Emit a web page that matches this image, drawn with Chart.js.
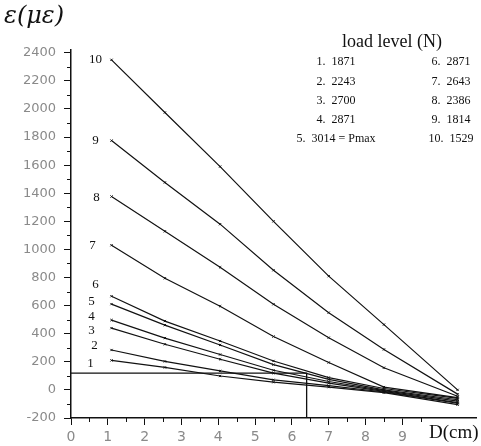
<!DOCTYPE html>
<html>
<head>
<meta charset="utf-8">
<script src="https://cdn.jsdelivr.net/npm/chart.js@4"></script>
<style>
  body { margin: 0; background: #fff; }
</style>
</head>
<body>
<canvas id="c" width="481" height="446"></canvas>
<script>
// distances along the member (cm)
const dist = [1.1, 2.55, 4.05, 5.5, 7.0, 8.5, 10.5];

// strain readings, one array per load level
const strain1  = [210, 160, 99, 55, 20, -20, -105];
const strain2  = [284, 203, 135, 72, 30, -15, -95];
const strain3  = [440, 325, 218, 120, 48, -10, -90];
const strain4  = [497, 369, 252, 140, 60, -5, -80];
const strain5  = [611, 461, 320, 180, 75, 0, -70];
const strain6  = [667, 490, 348, 206, 88, 10, -60];
const strain7  = [1030, 795, 596, 380, 195, 20, -55];
const strain8  = [1377, 1129, 873, 610, 372, 158, -45];
const strain9  = [1775, 1477, 1180, 852, 550, 288, -30];
const strain10 = [2350, 1975, 1590, 1200, 810, 465, 0];
const allStrains = [strain1, strain2, strain3, strain4, strain5, strain6, strain7, strain8, strain9, strain10];

// reference marks (D, strain)
const refX = [0, 6.4, 6.4];
const refY = [120, 120, -200];

// tick labels
const yTickValues = [-200, 0, 200, 400, 600, 800, 1000, 1200, 1400, 1600, 1800, 2000, 2200, 2400];
const xTickValues = [0, 1, 2, 3, 4, 5, 6, 7, 8, 9];

const legendLeft = ['1.  1871', '2.  2243', '3.  2700', '4.  2871', '5.  3014 = Pmax'];
const legendRight = ['6.  2871', '7.  2643', '8.  2386', '9.  1814', '10.  1529'];

// label offsets from the first point of each curve (pixels)
const curveLabelDx = [-21, -17, -20, -20, -20, -16, -19, -15, -16, -16];
const curveLabelDy = [3, -4, 2, -4, -3, -12, 0, 1, 0, 0];

const datasets = allStrains.map(s => ({
    data: s.map((v, i) => ({ x: dist[i], y: v })),
    borderColor: '#111',
    borderWidth: 1.2,
    pointRadius: 1.6,
    pointStyle: 'crossRot',
    pointBorderColor: '#111',
    pointBorderWidth: 1,
    showLine: true
}));
datasets.push({
    data: refX.map((x, i) => ({ x: x, y: refY[i] })),
    borderColor: '#111',
    borderWidth: 1.3,
    pointRadius: 0,
    showLine: true
});

const textPlugin = {
    id: 'texts',
    afterDraw(chart) {
        const ctx = chart.ctx;
        const xs = chart.scales.x, ys = chart.scales.y;
        ctx.save();
        ctx.strokeStyle = '#111';
        ctx.lineWidth = 1;
        // minor ticks
        ctx.beginPath();
        for (let v = -100; v < 2420; v += 200) {
            const py = Math.round(ys.getPixelForValue(v)) + 0.5;
            ctx.moveTo(xs.left - 4, py); ctx.lineTo(xs.left, py);
        }
        for (let v = 0.5; v < 10; v += 1) {
            const px = Math.round(xs.getPixelForValue(v)) + 0.5;
            ctx.moveTo(px, ys.bottom); ctx.lineTo(px, ys.bottom + 4);
        }
        ctx.stroke();

        ctx.fillStyle = '#111';
        // y title
        ctx.font = 'italic 24px "DejaVu Serif"';
        ctx.textAlign = 'left';
        ctx.textBaseline = 'middle';
        ctx.fillText('\u03b5(\u03bc\u03b5)', 4, 17);
        // x title
        ctx.font = '19px "Liberation Serif"';
        ctx.fillText('D(cm)', 429, 433);
        // legend
        ctx.textAlign = 'center';
        ctx.font = '18px "Liberation Serif"';
        ctx.fillText('load level (N)', 392, 42);
        ctx.font = '12px "Liberation Serif"';
        const rowY = [62, 82, 101, 120, 139];
        legendLeft.forEach((t, i) => ctx.fillText(t, 336, rowY[i]));
        legendRight.forEach((t, i) => ctx.fillText(t, 451, rowY[i]));
        // curve numbers
        ctx.font = '13px "Liberation Serif"';
        allStrains.forEach((s, i) => {
            const px = xs.getPixelForValue(dist[0]) + curveLabelDx[i];
            const py = ys.getPixelForValue(s[0]) + curveLabelDy[i];
            ctx.fillText(String(i + 1), px, py);
        });
        ctx.restore();
    }
};

new Chart(document.getElementById('c'), {
    type: 'scatter',
    data: { datasets: datasets },
    options: {
        responsive: false,
        animation: false,
        layout: { padding: { top: 50, left: 0, right: 0, bottom: 0 } },
        plugins: { legend: { display: false }, tooltip: { enabled: false } },
        scales: {
            x: {
                type: 'linear',
                min: 0,
                max: 11,
                afterFit: s => { s.height = 28; },
                afterBuildTicks: s => { s.ticks = xTickValues.map(v => ({ value: v })); },
                border: { display: true, color: '#111', width: 1.5 },
                grid: { drawOnChartArea: false, tickLength: 7, tickColor: '#111' },
                ticks: {
                    padding: 4,
                    color: '#8a8a8a',
                    font: { family: 'DejaVu Sans', size: 14 },
                    callback: v => String(v)
                }
            },
            y: {
                min: -200,
                max: 2420,
                afterFit: s => { s.width = 71; },
                afterBuildTicks: s => { s.ticks = yTickValues.map(v => ({ value: v })); },
                border: { display: true, color: '#111', width: 1.5 },
                grid: { drawOnChartArea: false, tickLength: 7, tickColor: '#111' },
                ticks: {
                    padding: 8,
                    color: '#8a8a8a',
                    font: { family: 'DejaVu Sans', size: 13 },
                    callback: v => String(v)
                }
            }
        }
    },
    plugins: [textPlugin]
});
</script>
</body>
</html>
